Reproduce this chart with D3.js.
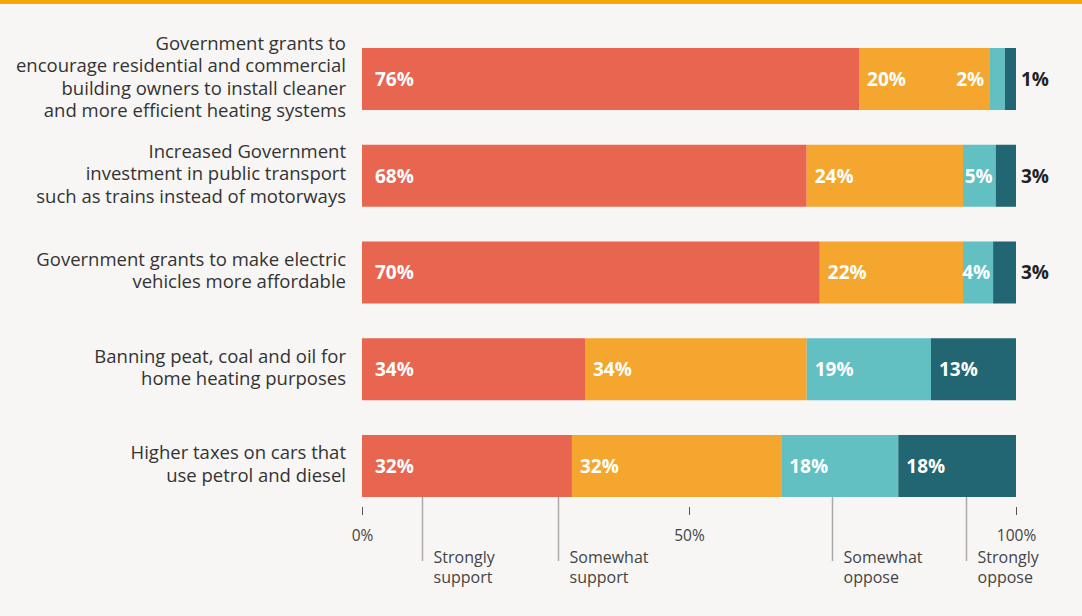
<!DOCTYPE html>
<html><head><meta charset="utf-8">
<script src="https://cdn.jsdelivr.net/npm/d3@7"></script>
<style>
html,body{margin:0;padding:0;background:#f7f6f4;}
svg{display:block;font-family:"Open Sans",sans-serif;}
</style></head>
<body><svg id="chart" width="1082" height="616"></svg>
<script>
const categories = [
  ["Government grants to","encourage residential and commercial","building owners to install cleaner","and more efficient heating systems"],
  ["Increased Government","investment in public transport","such as trains instead of motorways"],
  ["Government grants to make electric","vehicles more affordable"],
  ["Banning peat, coal and oil for","home heating purposes"],
  ["Higher taxes on cars that","use petrol and diesel"]
];
const seriesNames = ["Strongly support","Somewhat support","Somewhat oppose","Strongly oppose"];
const strongSupport = [76.0, 68.0, 70.0, 34.1, 32.1];
const someSupport   = [19.9, 23.9, 21.9, 33.9, 32.0];
const someOppose    = [2.4, 5.0, 4.6, 19.0, 17.9];
const strongOppose  = [1.7, 3.1, 3.5, 13.0, 18.0];
const labelSS = [76, 68, 70, 34, 32];
const labelSW = [20, 24, 22, 34, 32];
const labelSO = [2, 5, 4, 19, 18];
const labelXO = [1, 3, 3, 13, 18];
const tickValues = [0, 50, 100];
const legendAt = [9.2, 30, 71.9, 92.4];
const legendLines = [["Strongly","support"],["Somewhat","support"],["Somewhat","oppose"],["Strongly","oppose"]];
const colors = ["#e8664f","#f5a62e","#62c0c2","#216672"];

const svg = d3.select("#chart");
svg.append("rect").attr("x",0).attr("y",0).attr("width",1082).attr("height",4).attr("fill","#f6a800");

const ids = categories.map((c,i)=>i);
const x = d3.scaleLinear().domain([0,100]).range([362,1016]);
const y = d3.scaleBand().domain(ids).range([48,497]).paddingInner(0.359).paddingOuter(0);

const series = [strongSupport, someSupport, someOppose, strongOppose];
const labels = [labelSS, labelSW, labelSO, labelXO];

const rows = ids.map(i => {
  let acc = 0;
  return series.map((s,k) => {
    const seg = {row:i, k, x0:acc, x1:acc+s[i], label:labels[k][i]+"%"};
    acc += s[i];
    return seg;
  });
});

const g = svg.append("g");
rows.forEach(segs => {
  segs.forEach(seg => {
    g.append("rect")
      .attr("x", x(seg.x0)).attr("y", y(seg.row))
      .attr("width", x(seg.x1)-x(seg.x0)).attr("height", y.bandwidth())
      .attr("fill", colors[seg.k]);
  });
});

// value labels
rows.forEach(segs => {
  segs.forEach(seg => {
    const px0 = x(seg.x0), px1 = x(seg.x1), w = px1-px0;
    const cy = y(seg.row)+y.bandwidth()/2;
    const t = g.append("text").attr("y", cy).attr("dy","0.36em")
      .attr("font-size", 19).attr("font-weight", 700).text(seg.label);
    const lw = t.node().getComputedTextLength();
    const pad = seg.k===0 ? 13 : 8;
    if (w >= lw + pad + 4) {
      t.attr("x", px0+pad).attr("fill","#fff");
    } else if (seg.k === 3) {
      t.attr("x", px1+5).attr("fill","#222");
    } else if (w >= lw) {
      t.attr("x", px1-3).attr("text-anchor","end").attr("fill","#fff");
    } else {
      t.attr("x", px0-5).attr("text-anchor","end").attr("fill","#fff");
    }
  });
});

// category labels
const lh = 22.4;
categories.forEach((lines,i) => {
  const cy = y(i)+y.bandwidth()/2 - 2;
  const t = svg.append("text").attr("text-anchor","end").attr("font-size",18.5).attr("fill","#333");
  const top = cy - (lines.length-1)*lh/2;
  lines.forEach((ln,j) => {
    t.append("tspan").attr("x",346).attr("y", top + j*lh).attr("dy","0.35em").text(ln);
  });
});

// axis
const axis = svg.append("g").attr("transform","translate(0,507)")
  .call(d3.axisBottom(x).tickValues(tickValues).tickFormat(d=>d+"%").tickSize(8).tickPadding(15));
axis.select(".domain").remove();
axis.selectAll(".tick line").attr("stroke","#555").attr("stroke-width",1);
axis.selectAll(".tick text").attr("font-size",15.5).attr("fill","#444").attr("font-family","Open Sans, sans-serif");

// legend annotations
legendAt.forEach((p,i) => {
  const lx = Math.round(x(p))+0.5;
  svg.append("line").attr("x1",lx).attr("x2",lx).attr("y1",497).attr("y2",561)
    .attr("stroke","#aaa").attr("stroke-width",1.5);
  const t = svg.append("text").attr("font-size",16).attr("fill","#444");
  legendLines[i].forEach((ln,j) => {
    t.append("tspan").attr("x", lx+11).attr("y", 563 + j*20).text(ln);
  });
});
</script></body></html>
